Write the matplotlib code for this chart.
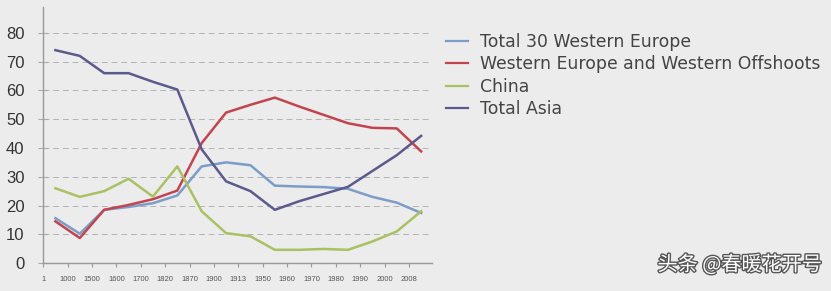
import numpy as np
import matplotlib.pyplot as plt
import matplotlib.patheffects as pe

years = ["1", "1000", "1500", "1600", "1700", "1820", "1870", "1900",
         "1913", "1950", "1960", "1970", "1980", "1990", "2000", "2008"]

europe30 = [15.6, 10.2, 18.5, 19.5, 20.8, 23.5, 33.6, 35.0, 34.0, 26.9, 26.6, 26.4, 25.8, 23.0, 21.0, 17.4]
west_off = [14.5, 8.7, 18.5, 20.2, 22.2, 25.2, 41.7, 52.3, 55.0, 57.5, 54.4, 51.5, 48.6, 47.0, 46.8, 38.8]
china = [26.0, 23.0, 25.0, 29.3, 23.1, 33.6, 18.0, 10.4, 9.3, 4.6, 4.6, 4.9, 4.6, 7.5, 11.0, 18.0]
asia = [74.0, 72.0, 66.0, 66.0, 63.0, 60.3, 39.5, 28.4, 25.0, 18.5, 21.5, 24.0, 26.5, 32.0, 37.5, 44.2]

names = ["Total 30 Western Europe", "Western Europe and Western Offshoots", "China", "Total Asia"]
colors = ["#7b9dc8", "#c2444f", "#a9c162", "#5c5a8c"]

bg = "#ececec"
fig = plt.figure(figsize=(8.31, 2.91), dpi=100, facecolor=bg)
ax = fig.add_axes([0.052, 0.096, 0.468, 0.88], facecolor=bg)

x = np.arange(len(years)) + 0.5
for vals, c, n in zip([europe30, west_off, china, asia], colors, names):
    ax.plot(x, vals, color=c, lw=1.8, label=n, solid_joinstyle="round")

ax.set_xlim(0, 15.95)
ax.set_ylim(0, 89)
ax.set_xticks(np.arange(len(years)))
ax.set_xticklabels(years, fontsize=5.5, color="#555555", family="Liberation Sans")
ax.set_yticks(range(0, 81, 10))
ax.set_yticklabels([str(v) for v in range(0, 81, 10)], fontsize=12, color="#333333",
                   family="Liberation Sans")
for v in range(10, 81, 10):
    ax.axhline(v, color="#b3b3b3", lw=0.7, ls=(0, (6, 4)), zorder=0)

for s in ["top", "right"]:
    ax.spines[s].set_visible(False)
for s in ["left", "bottom"]:
    ax.spines[s].set_color("#999999")
    ax.spines[s].set_linewidth(1.0)
ax.tick_params(axis="x", length=3, color="#999999", pad=6)
ax.tick_params(axis="y", length=7, direction="inout", color="#aaaaaa", pad=10)

leg = fig.legend(loc="upper left", bbox_to_anchor=(0.518, 0.94), frameon=False,
                 prop={"family": "DejaVu Sans", "size": 12.4}, handlelength=1.3,
                 handletextpad=0.65, labelspacing=0.25, labelcolor="#444444")
for h in leg.get_lines():
    h.set_linewidth(1.6)

fig.text(0.989, 0.089, "头条 @春暖花开号", ha="right", va="center", fontsize=14.5,
         color="white", family=["Noto Sans CJK SC", "DejaVu Sans"],
         path_effects=[pe.withStroke(linewidth=2, foreground="#555555")])

fig.savefig("out.png", dpi=100, facecolor=bg)
